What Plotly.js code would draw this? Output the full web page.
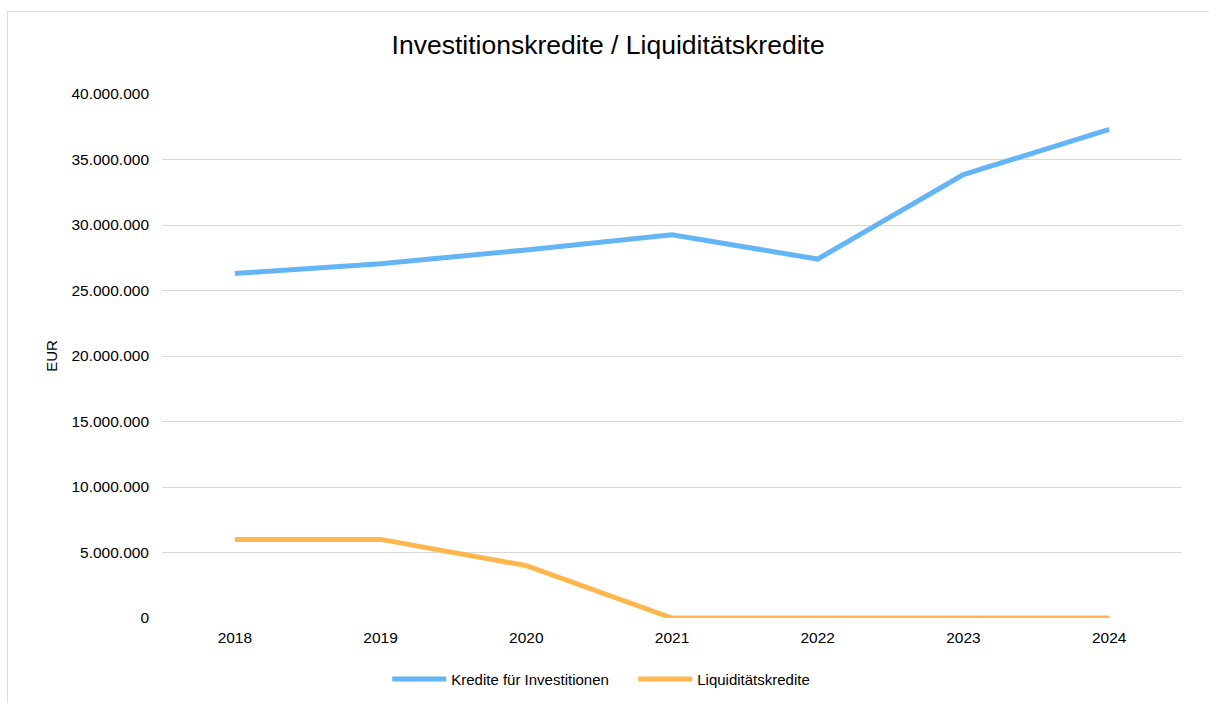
<!DOCTYPE html>
<html><head><meta charset="utf-8">
<script src="https://cdn.plot.ly/plotly-3.0.1.min.js"></script>
<style>
html,body{margin:0;padding:0;background:#fff;overflow:hidden;}
#frame{position:absolute;left:7px;top:11px;width:1400px;height:900px;border:1px solid #d9d9d9;box-sizing:border-box;}
#chart{position:absolute;left:0;top:0;width:1209px;height:703px;}
</style></head>
<body>
<div id="frame"></div>
<div id="chart"></div>
<script>
const years = ['2018','2019','2020','2021','2022','2023','2024'];
const investitionen = [26300000, 27050000, 28100000, 29250000, 27400000, 33850000, 37300000];
const liquiditaet = [6000000, 6000000, 4000000, 0, 0, 0, 0];
const yTicks = [0, 5000000, 10000000, 15000000, 20000000, 25000000, 30000000, 35000000, 40000000];
const yTickText = ['0','5.000.000','10.000.000','15.000.000','20.000.000','25.000.000','30.000.000','35.000.000','40.000.000'];

const traces = [
  {x: years, y: investitionen, type:'scatter', mode:'lines', name:'Kredite für Investitionen',
   line:{color:'#64b5f6', width:5}},
  {x: years, y: liquiditaet, type:'scatter', mode:'lines', name:'Liquiditätskredite',
   line:{color:'#ffb74d', width:5}}
];
const layout = {
  width:1209, height:703,
  paper_bgcolor:'rgba(0,0,0,0)', plot_bgcolor:'rgba(0,0,0,0)',
  margin:{l:162, r:27, t:94, b:85, autoexpand:false},
  font:{family:'"Liberation Sans", Arial, sans-serif', size:15, color:'#000'},
  title:{text:'Investitionskredite / Liquiditätskredite', x:0.503, xanchor:'center', xref:'container', y:0.936, yanchor:'middle',
         font:{size:26.5, color:'#000'}},
  xaxis:{type:'category', showgrid:false, zeroline:false, showline:false, ticks:'',
         tickfont:{size:15.5}, range:[-0.5, 6.5], ticklabelstandoff:8},
  yaxis:{range:[0, 40000000], tickvals:yTicks, ticktext:yTickText, showgrid:true, gridcolor:'#d9d9d9', gridwidth:1,
         zeroline:false, showline:false, ticks:'', tickfont:{size:15.5}, ticklabelstandoff:12,
         title:{text:'EUR', font:{size:15}, standoff:10}},
  showlegend:true,
  legend:{orientation:'h', x:0.462, xanchor:'center', y:-0.117, yanchor:'middle', font:{size:15}, itemwidth:54, entrywidth:177},
  hovermode:false
};
Plotly.newPlot('chart', traces, layout, {displayModeBar:false, staticPlot:true});
</script>
</body></html>
